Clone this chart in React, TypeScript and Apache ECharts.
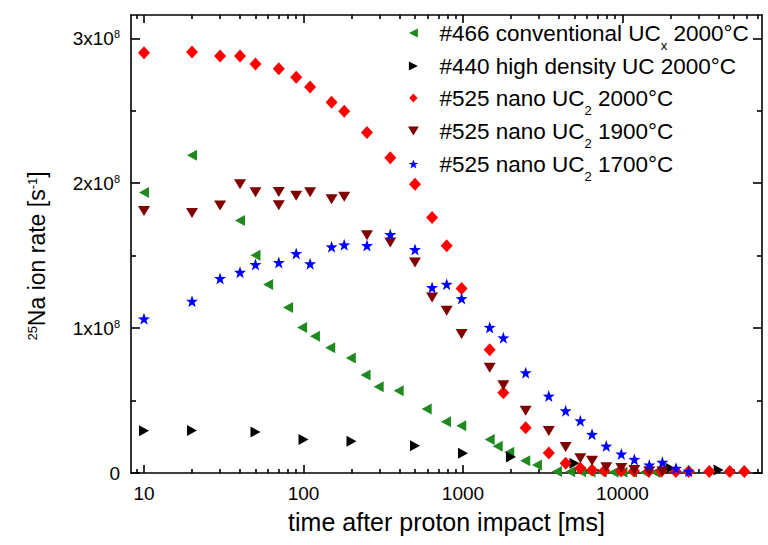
import React, { useEffect, useRef } from 'react';
import * as echarts from 'echarts';

// ---- data (values in units of 1e8 ions/s, times in ms) ----
const greenTimes = [10, 20, 40, 50, 60, 80, 98, 118, 147, 198, 245, 296, 395, 592, 782, 975, 1470, 1650, 1950, 2455, 2910, 3880, 4700, 5500, 6300, 7400, 8800, 10000, 11500, 13800, 16000];
const greenValues = [1.936, 2.193, 1.743, 1.503, 1.301, 1.143, 1.005, 0.943, 0.864, 0.793, 0.676, 0.595, 0.568, 0.441, 0.354, 0.326, 0.232, 0.184, 0.143, 0.085, 0.055, 0.010, 0.008, 0.008, 0.007, 0.007, 0.006, 0.006, 0.006, 0.005, 0.005];

const blackTimes = [10, 20, 50, 100, 200, 500, 1000, 2000, 5000, 20000, 40000];
const blackValues = [0.292, 0.294, 0.283, 0.232, 0.219, 0.188, 0.137, 0.111, 0.067, 0.032, 0.02];

const redTimes = [10, 20, 30, 40, 50, 70, 90, 110, 150, 180, 250, 350, 500, 640, 790, 980, 1470, 1790, 2470, 3450, 4400, 5440, 6440, 7700, 9800, 11800, 14600, 17500, 21600, 26000, 35000, 47000, 58000];
const redValues = [2.90, 2.905, 2.878, 2.878, 2.823, 2.79, 2.731, 2.664, 2.559, 2.497, 2.35, 2.175, 1.993, 1.763, 1.568, 1.274, 0.85, 0.554, 0.313, 0.138, 0.067, 0.032, 0.02, 0.015, 0.014, 0.013, 0.012, 0.012, 0.011, 0.011, 0.01, 0.01, 0.01];

const wineTimes = [10, 20, 30, 40, 50, 70, 70, 90, 110, 150, 180, 250, 350, 500, 640, 790, 980, 1470, 1790, 2470, 3450, 4400, 5440, 6440, 7910, 9830, 11860, 14720, 17780];
const wineValues = [1.809, 1.795, 1.846, 1.993, 1.938, 1.94, 1.848, 1.913, 1.938, 1.89, 1.906, 1.641, 1.591, 1.453, 1.212, 1.12, 0.959, 0.726, 0.605, 0.43, 0.29, 0.179, 0.101, 0.085, 0.04, 0.035, 0.02, 0.012, 0.01];

const blueTimes = [10, 20, 30, 40, 50, 70, 90, 110, 150, 180, 250, 350, 500, 640, 790, 980, 1470, 1790, 2470, 3450, 4400, 5440, 6440, 7910, 9830, 11860, 14720, 17780, 21640, 26000];
const blueValues = [1.064, 1.186, 1.343, 1.386, 1.439, 1.453, 1.515, 1.444, 1.561, 1.575, 1.57, 1.646, 1.543, 1.28, 1.303, 1.204, 1.005, 0.933, 0.692, 0.531, 0.43, 0.361, 0.267, 0.186, 0.131, 0.094, 0.055, 0.074, 0.032, 0.012];

const seriesNames = [
  '#466 conventional UCx 2000°C',
  '#440 high density UC 2000°C',
  '#525 nano UC2 2000°C',
  '#525 nano UC2 1900°C',
  '#525 nano UC2 1700°C',
];
const legendRich = [
  '#466 conventional UC{sub|x} 2000°C',
  '#440 high density UC{sp| }2000°C',
  '#525 nano UC{sub|2} 2000°C',
  '#525 nano UC{sub|2} 1900°C',
  '#525 nano UC{sub|2} 1700°C',
];

const xMajorTicks = [10, 100, 1000, 10000];
const xMinorTicks = [9, 20, 30, 40, 50, 60, 70, 80, 90, 200, 300, 400, 500, 600, 700, 800, 900, 2000, 3000, 4000, 5000, 6000, 7000, 8000, 9000, 20000, 30000, 40000, 50000, 60000, 70000];
const yMajorTicks = [0, 1e8, 2e8, 3e8];
const yMinorTicks = [0.5e8, 1.5e8, 2.5e8];

const FONT = 'Arial, "Liberation Sans", sans-serif';

function starPath(): string {
  const pts: string[] = [];
  for (let i = 0; i < 10; i++) {
    const r = i % 2 === 0 ? 10 : 4;
    const a = (-90 + i * 36) * Math.PI / 180;
    pts.push((r * Math.cos(a)).toFixed(3) + ',' + (r * Math.sin(a)).toFixed(3));
  }
  return 'path://M' + pts.join('L') + 'Z';
}

const X_MIN = 8.29;
const X_MAX = 74900;
const Y_MAX = 3.161e8;

function toData(times: number[], vals: number[]) {
  return times.map((t, i) => [t, vals[i] * 1e8]);
}

export default function App() {
  const ref = useRef<HTMLDivElement>(null);
  useEffect(() => {
    if (!ref.current) return;
    const chart = echarts.init(ref.current, null, { renderer: 'svg' });
    const lineStyle = { color: '#000', width: 1.6 };
    const xBase = {
      type: 'log',
      logBase: 10,
      min: X_MIN,
      max: X_MAX,
      splitLine: { show: false },
      axisLine: { onZero: false, show: true, lineStyle },
    };
    const yBase = {
      type: 'value',
      min: 0,
      max: Y_MAX,
      splitLine: { show: false },
      axisLine: { onZero: false, show: true, lineStyle },
    };
    const mk = (name: string, times: number[], vals: number[], color: string, symbol: string, size: any) => ({
      name,
      type: 'scatter',
      xAxisIndex: 0,
      yAxisIndex: 0,
      symbol,
      symbolSize: size,
      itemStyle: { color, opacity: 1 },
      data: toData(times, vals),
    });
    const legendMap: Record<string, string> = {};
    seriesNames.forEach((n, i) => { legendMap[n] = legendRich[i]; });

    chart.setOption({
      animation: false,
      backgroundColor: '#fff',
      grid: { left: 131, right: 6, top: 15, bottom: 72, containLabel: false },
      legend: {
        orient: 'vertical',
        left: 403,
        top: 16,
        itemWidth: 42,
        itemHeight: 9,
        itemGap: 2,
        selectedMode: false,
        data: seriesNames,
        formatter: (n: string) => legendMap[n] || n,
        textStyle: {
          fontFamily: FONT,
          fontSize: 22.5,
          color: '#000',
          lineHeight: 24,
          rich: {
            sub: { fontSize: 13, lineHeight: 24, padding: [18, 0, 0, 0], verticalAlign: 'top', fontFamily: FONT, color: '#000' },
            sp: { fontSize: 22.5, lineHeight: 24, padding: [7, 0, 0, 0], verticalAlign: 'top', fontFamily: FONT, color: '#000' },
          },
        },
      },
      xAxis: [
        {
          ...xBase,
          position: 'bottom',
          axisTick: { show: true, inside: true, length: 8, customValues: xMajorTicks, lineStyle },
          axisLabel: {
            show: true,
            customValues: xMajorTicks,
            formatter: (v: number) => String(Math.round(v)),
            fontFamily: FONT, fontSize: 19, color: '#000', margin: 11,
          },
          name: 'time after proton impact [ms]',
          nameLocation: 'middle',
          nameGap: 36,
          nameTextStyle: { fontFamily: FONT, fontSize: 25, color: '#000' },
        },
        {
          ...xBase,
          position: 'bottom',
          axisLine: { show: false, onZero: false },
          axisTick: { show: true, inside: true, length: 4, customValues: xMinorTicks, lineStyle },
          axisLabel: { show: false },
        },
        {
          ...xBase,
          position: 'top',
          axisTick: { show: true, inside: true, length: 8, customValues: xMajorTicks, lineStyle },
          axisLabel: { show: false },
        },
        {
          ...xBase,
          position: 'top',
          axisLine: { show: false, onZero: false },
          axisTick: { show: true, inside: true, length: 4, customValues: xMinorTicks, lineStyle },
          axisLabel: { show: false },
        },
      ],
      yAxis: [
        {
          ...yBase,
          position: 'left',
          axisTick: { show: true, inside: true, length: 9, customValues: yMajorTicks, lineStyle },
          axisLabel: {
            show: true,
            customValues: yMajorTicks,
            formatter: (v: number) => (v === 0 ? '0' : Math.round(v / 1e8) + 'x10{sup|8}'),
            fontFamily: FONT, fontSize: 19, color: '#000', margin: 11,
            rich: { sup: { fontSize: 11, lineHeight: 12, verticalAlign: 'top', fontFamily: FONT, color: '#000' } },
          },
        },
        {
          ...yBase,
          position: 'left',
          axisLine: { show: false, onZero: false },
          axisTick: { show: true, inside: true, length: 5, customValues: yMinorTicks, lineStyle },
          axisLabel: { show: false },
        },
        {
          ...yBase,
          position: 'right',
          axisTick: { show: true, inside: true, length: 9, customValues: yMajorTicks, lineStyle },
          axisLabel: { show: false },
        },
        {
          ...yBase,
          position: 'right',
          axisLine: { show: false, onZero: false },
          axisTick: { show: true, inside: true, length: 5, customValues: yMinorTicks, lineStyle },
          axisLabel: { show: false },
        },
      ],
      graphic: [
        {
          type: 'text',
          x: 37,
          y: 256,
          rotation: Math.PI / 2,
          style: {
            text: '{sup|25}Na ion rate [s{sup|-1}]',
            fontFamily: FONT,
            fontSize: 23,
            fill: '#000',
            align: 'center',
            verticalAlign: 'middle',
            rich: {
              sup: { fontSize: 13, lineHeight: 12, verticalAlign: 'top', fontFamily: FONT, fill: '#000' },
            },
          },
        },
      ],
      series: [
        mk(seriesNames[0], greenTimes, greenValues, '#1f8a1f', 'path://M0,5L10,0L10,10Z', [10, 11]),
        mk(seriesNames[1], blackTimes, blackValues, '#000000', 'path://M10,5L0,0L0,10Z', [10, 11]),
        mk(seriesNames[2], redTimes, redValues, '#ff0000', 'path://M6,0L12,6.5L6,13L0,6.5Z', [12, 13]),
        mk(seriesNames[3], wineTimes, wineValues, '#800000', 'path://M0,0L12,0L6,10Z', [12, 10]),
        mk(seriesNames[4], blueTimes, blueValues, '#0000ff', starPath(), [12, 12]),
      ],
    });
    return () => chart.dispose();
  }, []);
  return <div ref={ref} style={{ position: 'fixed', left: 0, top: 0, width: 768, height: 545 }} />;
}
